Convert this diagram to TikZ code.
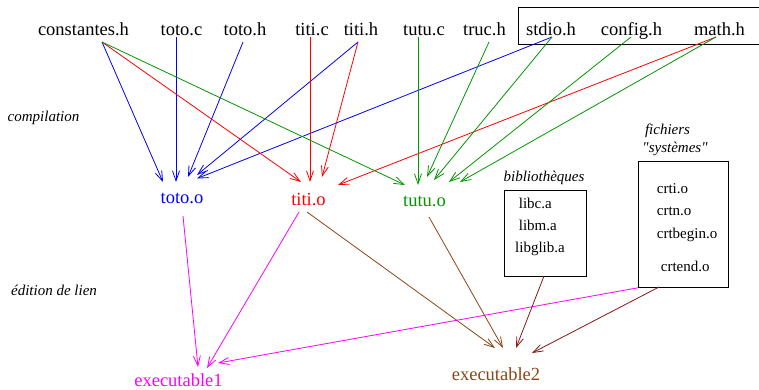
\documentclass[tikz,border=0pt]{standalone}
\usepackage{fontspec}
\setmainfont{Liberation Serif}[Ligatures=TeXOff]
\newfontfamily\labelfont{Liberation Serif}[Ligatures=TeXOff]
\usetikzlibrary{arrows.meta}
\definecolor{cblue}{RGB}{0,0,255}
\definecolor{cred}{RGB}{255,0,0}
\definecolor{cgreen}{RGB}{0,150,0}
\definecolor{cmagenta}{RGB}{255,0,255}
\definecolor{cbrown}{RGB}{140,70,20}
\definecolor{cdarkred}{RGB}{140,20,20}
\begin{document}
\begin{tikzpicture}[x=1pt,y=-1pt,
  file/.style={font=\labelfont\fontsize{18.5}{22}\selectfont, anchor=base, inner sep=0pt},
  note/.style={font=\labelfont\fontsize{15}{18}\selectfont\itshape, anchor=base, inner sep=0pt},
  item/.style={font=\labelfont\fontsize{15}{18}\selectfont, anchor=base west, inner sep=0pt},
  frame/.style={draw, line width=0.8pt, inner sep=0pt, anchor=north west},
  link/.style={line width=0.8pt, -{Straight Barb[length=10pt,width=7pt]}}]
\useasboundingbox (0,0) rectangle (759,389);

% source files
\node[file] (consth) at (83.5,35) {constantes.h};
\node[file] (totoc)  at (181.5,35) {toto.c};
\node[file] (totoh)  at (245,35) {toto.h};
\node[file] (titic)  at (312,35) {titi.c};
\node[file] (titih)  at (361,35) {titi.h};
\node[file] (tutuc)  at (424,35) {tutu.c};
\node[file] (truch)  at (484.5,35) {truc.h};
\node[file] (stdioh) at (551,35) {stdio.h};
\node[file] (configh) at (631.5,35) {config.h};
\node[file] (mathh)  at (719.5,35) {math.h};
\node[frame, minimum width=240.5pt, minimum height=37pt] (syshdr) at (518,7) {};

% object files
\node[file, text=cblue]  (totoo) at (182,203) {toto.o};
\node[file, text=cred]   (titio) at (308.5,205) {titi.o};
\node[file, text=cgreen] (tutuo) at (424.5,206) {tutu.o};

% executables
\node[file, text=cmagenta] (exe1) at (178.5,386) {executable1};
\node[file, text=cbrown]   (exe2) at (496,380) {executable2};

% stage labels
\node[note] (lcomp) at (43.5,121) {compilation};
\node[note] (llink) at (54,295) {édition de lien};

% libraries
\node[note] (llibs) at (544,181) {bibliothèques};
\node[frame, minimum width=82.3pt, minimum height=85.7pt] (libs) at (503.7,190) {};
\node[item] (libc) at (518.7,208) {libc.a};
\node[item] (libm) at (518.7,230.7) {libm.a};
\node[item] (libglib) at (515,252.5) {libglib.a};

% system objects
\node[note] (lsys1) at (667.5,134) {fichiers};
\node[note] (lsys2) at (675,152) {"systèmes"};
\node[frame, minimum width=89.7pt, minimum height=126.3pt] (crt) at (638,160.7) {};
\node[item] (crti) at (656.7,193) {crti.o};
\node[item] (crtn) at (656.7,215.7) {crtn.o};
\node[item] (crtbegin) at (656.7,238) {crtbegin.o};
\node[item] (crtend) at (660.7,271) {crtend.o};

% connector ports
\coordinate (consth-o) at (102,42);
\coordinate (totoc-o) at (176,37);
\coordinate (totoh-o) at (243,42);
\coordinate (titic-o) at (310,37);
\coordinate (titih-o) at (358,42);
\coordinate (tutuc-o) at (418,37);
\coordinate (truch-o) at (489,42);
\coordinate (stdioh-o) at (552,37);
\coordinate (configh-o) at (631,37);
\coordinate (mathh-o) at (716,37);
\coordinate (totoo-o) at (183,216);
\coordinate (titio-o1) at (299,212);
\coordinate (titio-o2) at (307,212);
\coordinate (tutuo-o) at (429,217);
\coordinate (libs-o) at (544,276);
\coordinate (crt-o) at (659,287);

\coordinate (totoo-i1) at (163,182);
\coordinate (totoo-i2) at (176,182);
\coordinate (totoo-i3) at (188,177);
\coordinate (totoo-i4) at (197,175);
\coordinate (totoo-i5) at (197,178.5);
\coordinate (titio-i1) at (301,182);
\coordinate (titio-i2) at (310,182);
\coordinate (titio-i3) at (322,177);
\coordinate (titio-i4) at (338,185);
\coordinate (tutuo-i1) at (405,185);
\coordinate (tutuo-i2) at (418,185);
\coordinate (tutuo-i3) at (427,177);
\coordinate (tutuo-i4) at (434,180);
\coordinate (tutuo-i5) at (449,182);
\coordinate (tutuo-i6) at (460,182);
\coordinate (exe1-i1) at (198,367);
\coordinate (exe1-i2) at (207,368);
\coordinate (exe1-i3) at (218,363);
\coordinate (exe2-i1) at (495,348);
\coordinate (exe2-i2) at (503,348);
\coordinate (exe2-i3) at (516,348);
\coordinate (exe2-i4) at (532,353);

% compilation of toto.o
\draw[link, cblue] (consth-o) -- (totoo-i1);
\draw[link, cblue] (totoc-o) -- (totoo-i2);
\draw[link, cblue] (totoh-o) -- (totoo-i3);
\draw[link, cblue] (titih-o) -- (totoo-i4);
\draw[link, cblue] (stdioh-o) -- (totoo-i5);

% compilation of titi.o
\draw[link, cred] (consth-o) -- (titio-i1);
\draw[link, cred] (titic-o) -- (titio-i2);
\draw[link, cred] (titih-o) -- (titio-i3);
\draw[link, cred] (mathh-o) -- (titio-i4);

% compilation of tutu.o
\draw[link, cgreen] (consth-o) -- (tutuo-i1);
\draw[link, cgreen] (tutuc-o) -- (tutuo-i2);
\draw[link, cgreen] (truch-o) -- (tutuo-i3);
\draw[link, cgreen] (stdioh-o) -- (tutuo-i4);
\draw[link, cgreen] (configh-o) -- (tutuo-i5);
\draw[link, cgreen] (mathh-o) -- (tutuo-i6);

% linking executable1
\draw[link, cmagenta] (totoo-o) -- (exe1-i1);
\draw[link, cmagenta] (titio-o1) -- (exe1-i2);
\draw[link, cmagenta] (crt.south west) -- (exe1-i3);

% linking executable2
\draw[link, cbrown] (titio-o2) -- (exe2-i1);
\draw[link, cbrown] (tutuo-o) -- (exe2-i2);
\draw[link, cdarkred] (libs-o) -- (exe2-i3);
\draw[link, cdarkred] (crt-o) -- (exe2-i4);
\end{tikzpicture}
\end{document}
